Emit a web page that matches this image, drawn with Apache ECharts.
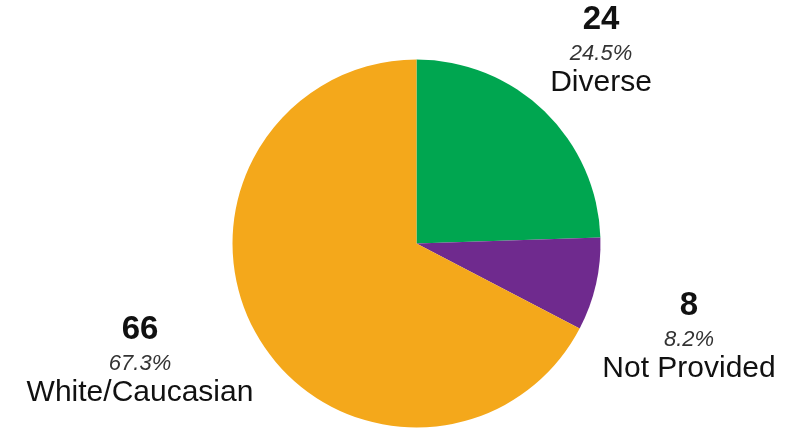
<!DOCTYPE html>
<html>
<head>
<meta charset="utf-8">
<script src="https://cdn.jsdelivr.net/npm/echarts@6/dist/echarts.min.js"></script>
<style>
html,body{margin:0;padding:0;background:#fff;}
#c{width:805px;height:430px;}
</style>
</head>
<body>
<div id="c"></div>
<script>
const categories = ["Diverse", "Not Provided", "White/Caucasian"];
const counts = [24, 8, 66];
const percentLabels = ["24.5%", "8.2%", "67.3%"];
const colors = ["#00a650", "#6f2a8e", "#f4a81b"];
const labelPos = [[601, 48.5], [689, 334.5], [140, 358.5]];

const chart = echarts.init(document.getElementById('c'), null, {renderer: 'canvas'});
const data = categories.map((name, i) => ({
  name: name,
  value: counts[i],
  itemStyle: {color: colors[i]}
}));

chart.setOption({
  animation: false,
  backgroundColor: '#ffffff',
  series: [{
    type: 'pie',
    center: [416.5, 243.5],
    radius: [0, 184],
    startAngle: 90,
    clockwise: true,
    avoidLabelOverlap: false,
    itemStyle: {borderWidth: 0},
    emphasis: {disabled: true},
    data: data,
    label: {
      show: true,
      position: 'outside',
      formatter: function (p) {
        return '{n|' + p.value + '}\n{p|' + percentLabels[p.dataIndex] + '}\n{c|' + p.name + '}';
      },
      rich: {
        n: {fontFamily: 'Liberation Sans', fontSize: 33, fontWeight: 'bold', color: '#111', lineHeight: 40, align: 'center'},
        p: {fontFamily: 'Liberation Sans', fontSize: 22, fontStyle: 'italic', color: '#333', lineHeight: 28, align: 'center'},
        c: {fontFamily: 'Liberation Sans', fontSize: 30, color: '#111', lineHeight: 28.5, align: 'center'}
      }
    },
    labelLine: {show: false},
    labelLayout: function (params) {
      const pos = labelPos[params.dataIndex];
      return {x: pos[0], y: pos[1], align: 'center', verticalAlign: 'middle'};
    }
  }]
});
</script>
</body>
</html>
